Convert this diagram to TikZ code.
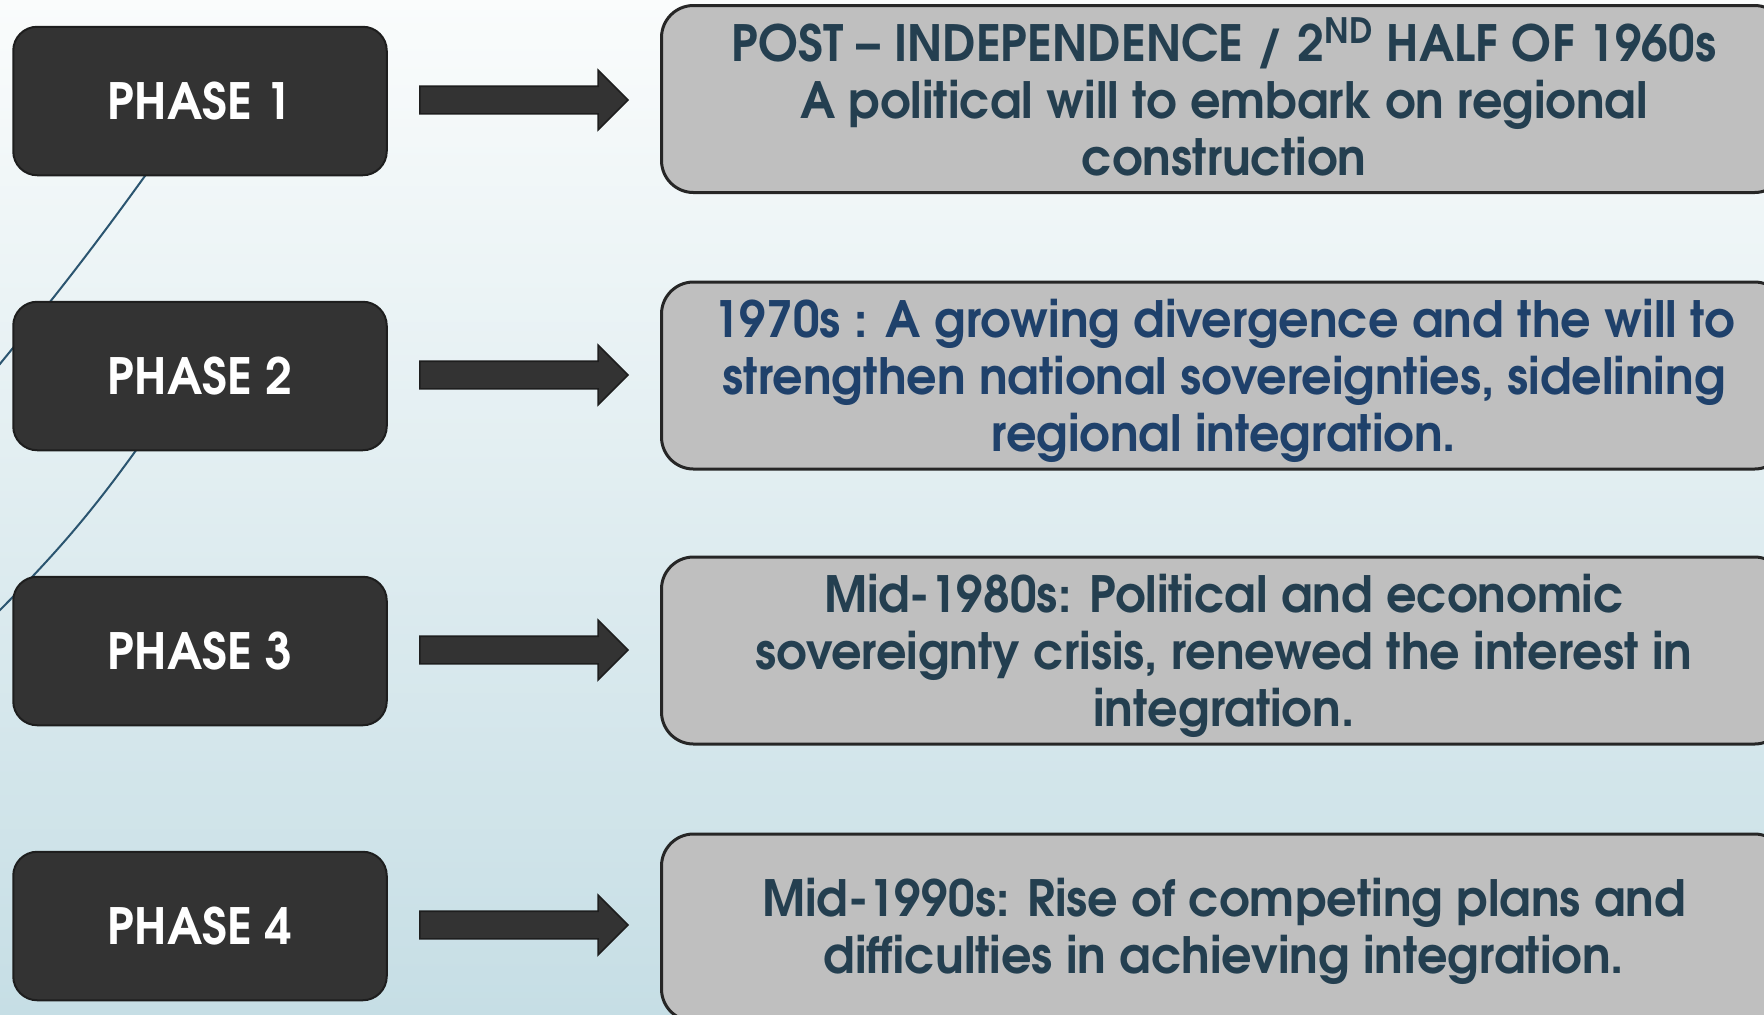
\documentclass[tikz,border=0pt]{standalone}
\usepackage{fontspec}
\setmainfont{texgyreadventor}[Extension=.otf, UprightFont=*-regular, BoldFont=*-bold, FakeStretch=0.955]
\usetikzlibrary{shapes.arrows}
\definecolor{bgtop}{HTML}{FAFCFC}
\definecolor{bgbot}{HTML}{C6DEE5}
\definecolor{phasefill}{HTML}{333333}
\definecolor{phaseedge}{HTML}{1E1E1E}
\definecolor{infofill}{HTML}{BFBFBF}
\definecolor{infoedge}{HTML}{262626}
\definecolor{slatetext}{HTML}{243F50}
\definecolor{bluetext}{HTML}{1F416B}
\definecolor{swoosh}{HTML}{2B5570}
\begin{document}
\begin{tikzpicture}[x=0.5pt,y=-0.5pt,
  phasebox/.style={draw=phaseedge, line width=1pt, fill=phasefill, rounded corners=12pt,
    minimum width=186.75pt, minimum height=74.25pt, inner sep=0pt,
    text=white, font=\bfseries\fontsize{25}{28.5}\selectfont},
  infobox/.style={draw=infoedge, line width=1.5pt, fill=infofill, rounded corners=16pt,
    minimum width=562.5pt, minimum height=93.5pt, inner sep=0pt},
  infotext/.style={inner sep=0pt, align=center, text=slatetext,
    font=\bfseries\fontsize{25}{28.5}\selectfont},
  blockarrow/.style={single arrow, draw=phaseedge, line width=0.8pt, fill=phasefill,
    inner xsep=0pt, inner ysep=6.5pt, minimum height=104pt,
    single arrow head extend=8pt, single arrow head indent=0pt},
  swooshline/.style={draw=swoosh, line width=1pt}]

% canvas and background
\useasboundingbox (0,0) rectangle (1764,1014);
\clip (0,0) rectangle (1764,1014);
\shade[top color=bgtop, bottom color=bgbot] (0,0) rectangle (1764,1014);

% decorative swoosh lines behind the phase boxes
\coordinate (s1a) at (170,141);
\coordinate (s1b) at (-10,376);
\coordinate (s2a) at (154,425);
\coordinate (s2b) at (-10,620);
\draw[swooshline] (s1a) to[bend left=2] (s1b);
\draw[swooshline] (s2a) to[bend left=5] (s2b);

% phase boxes
\node[phasebox] (p1) at (200,101) {PHASE 1};
\node[phasebox] (p2) at (200,376) {PHASE 2};
\node[phasebox] (p3) at (200,651) {PHASE 3};
\node[phasebox] (p4) at (200,926) {PHASE 4};

% arrows
\node[blockarrow] (a1) at (517,100) {};
\node[blockarrow] (a2) at (517,375) {};
\node[blockarrow] (a3) at (517,650) {};
\node[blockarrow] (a4) at (517,925) {};

% description boxes
\node[infobox] (d1) at (1224,99) {};
\node[infobox] (d2) at (1224,375.5) {};
\node[infobox] (d3) at (1224,650.5) {};
\node[infobox] (d4) at (1224,927.5) {};

% description texts
\node[infotext] (t1) at ([yshift=1.1pt]d1.center) {POST -- INDEPENDENCE / 2\textsuperscript{ND} HALF OF 1960s\\A political will to embark on regional\\construction};
\node[infotext, text=bluetext] (t2) at ([yshift=-2.8pt]d2.center) {1970s : A growing divergence and the will to\\strengthen national sovereignties, sidelining\\regional integration.};
\node[infotext] (t3) at ([yshift=-2.8pt]d3.center) {Mid-1980s: Political and economic\\sovereignty crisis, renewed the interest in\\integration.};
\node[infotext] (t4) at ([yshift=-1.7pt]d4.center) {Mid-1990s: Rise of competing plans and\\difficulties in achieving integration.};
\end{tikzpicture}
\end{document}
